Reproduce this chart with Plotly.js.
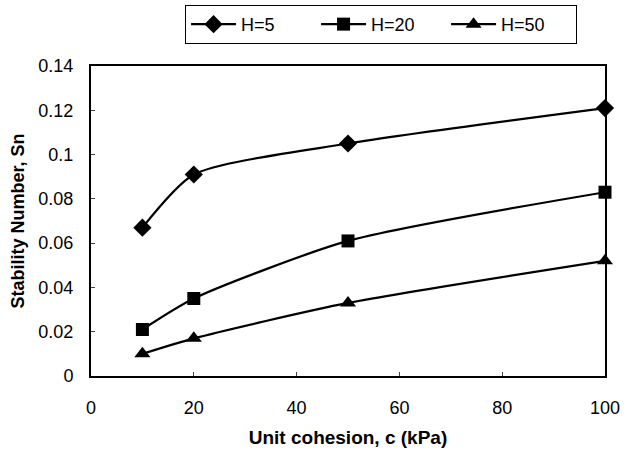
<!DOCTYPE html>
<html><head><meta charset="utf-8">
<script src="https://cdn.plot.ly/plotly-3.0.1.min.js"></script>
<style>html,body{margin:0;padding:0;background:#fff}</style>
</head><body>
<div id="chart" style="width:624px;height:456px"></div>
<script>
var cohesion = [10, 20, 50, 100];
var h5 = [0.067, 0.091, 0.105, 0.121];
var h20 = [0.021, 0.035, 0.061, 0.083];
var h50 = [0.010, 0.017, 0.033, 0.052];
var names = ["H=5", "H=20", "H=50"];
var xTicks = [0, 20, 40, 60, 80, 100];
var yTicks = [0, 0.02, 0.04, 0.06, 0.08, 0.1, 0.12, 0.14];
var yTickText = ["0", "0.02", "0.04", "0.06", "0.08", "0.1", "0.12", "0.14"];

function tr(y, name, sym, size) {
  return {x: cohesion, y: y, name: name, type: 'scatter', mode: 'lines+markers',
    line: {color: '#000', width: 2.2, shape: 'spline', smoothing: 0.65},
    marker: {symbol: sym, size: size, color: '#000'}, cliponaxis: false};
}
var data = [tr(h5, names[0], 'diamond', 14), tr(h20, names[1], 'square', 13), tr(h50, names[2], 'triangle-up', 14)];
var layout = {
  width: 624, height: 456,
  margin: {l: 91, r: 19, t: 66, b: 80, autoexpand: false},
  paper_bgcolor: '#fff', plot_bgcolor: '#fff',
  font: {family: 'Liberation Sans, Arial, sans-serif', size: 18, color: '#000'},
  showlegend: true,
  legend: {orientation: 'h', x: 0.183, xanchor: 'left', y: 1.197, yanchor: 'top',
    bordercolor: '#000', borderwidth: 1, font: {size: 18}, itemwidth: 45, entrywidth: 70,
    bgcolor: '#fff'},
  xaxis: {range: [0, 100], tickvals: xTicks, ticks: 'inside', ticklen: 4, showgrid: false, zeroline: false,
    showline: true, linecolor: '#000', linewidth: 2, mirror: true, ticklabelstandoff: 14,
    title: {text: 'Unit cohesion, c (kPa)', font: {size: 19, weight: 'bold'}, standoff: 14}},
  yaxis: {range: [0, 0.14], tickvals: yTicks, ticktext: yTickText, ticks: 'inside', ticklen: 4, showgrid: false, zeroline: false,
    showline: true, linecolor: '#000', linewidth: 2, mirror: true, ticklabelstandoff: 12,
    title: {text: 'Stability Number, Sn', font: {size: 18, weight: 'bold'}, standoff: 9}}
};
Plotly.newPlot('chart', data, layout, {displayModeBar: false});
</script>
</body></html>
